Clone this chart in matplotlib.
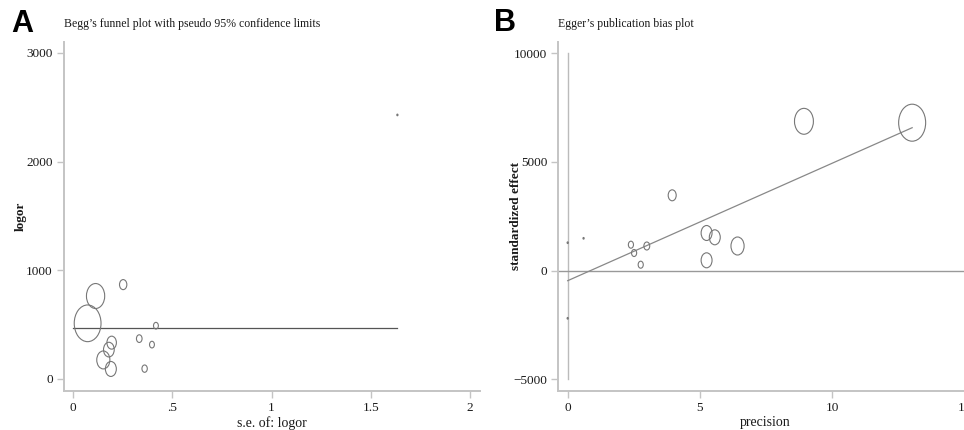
'''
Begg's funnel plot and Egger's publication bias plot, side by side
'''
import matplotlib
matplotlib.use('Agg')
import matplotlib.pyplot as plt
from matplotlib.path import Path
from matplotlib.transforms import Affine2D
import numpy as np

# Panel A: Begg's funnel plot (s.e. of logor vs logor)
begg_se = [0.074, 0.114, 0.253, 0.418, 0.195, 0.181, 0.153, 0.191, 0.334, 0.398, 0.361, 1.634]
begg_logor = [512, 763, 868, 490, 334, 270, 175, 92, 371, 316, 95, 2429]
begg_weight = [100, 46.4, 7.5, 3.3, 12.5, 16, 24, 16.7, 4.4, 3.3, 4, 0.2]
begg_pooled = 472

# Panel B: Egger's plot (precision vs standardized effect)
egger_prec = [13.02, 8.93, 3.95, 5.25, 5.56, 6.42, 5.25, 2.99, 2.39, 2.51, 2.76, 0.60, 0.0, 0.0]
egger_std = [6808, 6872, 3468, 1734, 1536, 1136, 478, 1136, 1196, 814, 276, 1490, 1288, -2190]
egger_weight = [100, 49, 8.8, 16.4, 16.4, 23.7, 16.4, 4.7, 3.6, 3.6, 3.6, 0.2, 0.2, 0.2]
egger_intercept = -460
egger_slope = 540.5

SERIF = ['Liberation Serif', 'DejaVu Serif']
SPINE = '#c4c4c4'

# slightly squashed circle, the source picture is compressed sideways
ELLIPSE = Path(Affine2D().scale(0.73, 1.0).transform(Path.unit_circle().vertices),
               Path.unit_circle().codes)


def marker_sizes(weights, max_px):
    '''convert weights (area) to scatter sizes so the biggest is max_px tall'''
    w = np.asarray(weights, dtype=float)
    h_px = max_px * np.sqrt(w / w.max())
    h_pt = np.maximum(h_px, 1.5) * 72 / 100
    return h_pt ** 2


def style_axes(ax):
    for side in ('top', 'right'):
        ax.spines[side].set_visible(False)
    for side in ('left', 'bottom'):
        ax.spines[side].set_color(SPINE)
        ax.spines[side].set_linewidth(1.4)
    ax.tick_params(colors=SPINE, labelcolor='#1a1a1a', length=5, width=1.0,
                   direction='out', labelsize=9.5, pad=3)
    for lab in ax.get_xticklabels() + ax.get_yticklabels():
        lab.set_family(SERIF)


fig = plt.figure(figsize=(9.64, 4.30), dpi=100)

# ---- A ----
ax_a = fig.add_axes([64 / 964, 39.3 / 430, 416 / 964, 348.7 / 430])
ax_a.set_xlim(-0.045, 2.05)
ax_a.set_ylim(-108, 3100)
ax_a.plot([0, max(begg_se)], [begg_pooled, begg_pooled], color='#555555', lw=0.9, zorder=1)
ax_a.scatter(begg_se, begg_logor, s=marker_sizes(begg_weight, 36.7), marker=ELLIPSE,
             facecolors='none', edgecolors='#777777', linewidths=0.8, zorder=2)
ax_a.set_xticks([0, 0.5, 1, 1.5, 2])
ax_a.set_xticklabels(['0', '.5', '1', '1.5', '2'])
ax_a.set_yticks([0, 1000, 2000, 3000])
style_axes(ax_a)
ax_a.set_xlabel('s.e. of: logor', family=SERIF, fontsize=10, color='#1a1a1a')
ax_a.xaxis.set_label_coords(0.5, -0.072)
ax_a.set_ylabel('logor', family=SERIF, fontsize=9.5, fontweight='bold', color='#1a1a1a')
ax_a.yaxis.set_label_coords(-0.089, 0.5)

# ---- B ----
ax_b = fig.add_axes([558.3 / 964, 39 / 430, 414.7 / 964, 349 / 430])
ax_b.set_xlim(-0.355, 15.32)
ax_b.set_ylim(-5534, 10520)
ax_b.plot([0, 0], [-5000, 10000], color='#bbbbbb', lw=1.0, zorder=1)
ax_b.axhline(0, color='#999999', lw=1.0, zorder=1)
xfit = np.array([0, max(egger_prec)])
ax_b.plot(xfit, egger_intercept + egger_slope * xfit, color='#888888', lw=0.9, zorder=1)
ax_b.scatter(egger_prec, egger_std, s=marker_sizes(egger_weight, 37), marker=ELLIPSE,
             facecolors='none', edgecolors='#777777', linewidths=0.8, zorder=2)
ax_b.set_xticks([0, 5, 10, 15])
ax_b.set_yticks([-5000, 0, 5000, 10000])
ax_b.set_yticklabels(['\u22125000', '0', '5000', '10000'])
style_axes(ax_b)
ax_b.set_xlabel('precision', family=SERIF, fontsize=10, color='#1a1a1a')
ax_b.xaxis.set_label_coords(0.5, -0.072)
ax_b.set_ylabel('standardized effect', family=SERIF, fontsize=9.5, fontweight='bold',
                color='#1a1a1a')
ax_b.yaxis.set_label_coords(-0.088, 0.5)

# titles and panel letters
fig.text(64 / 964, 1 - 24 / 430, 'Begg\u2019s funnel plot with pseudo 95% confidence limits',
         family=SERIF, fontsize=8.5, va='center', ha='left', color='#1a1a1a')
fig.text(558.3 / 964, 1 - 24 / 430, 'Egger\u2019s publication bias plot',
         family=SERIF, fontsize=8.5, va='center', ha='left', color='#1a1a1a')
fig.text(11 / 964, 1 - 24 / 430, 'A', family=['Liberation Sans', 'DejaVu Sans'],
         fontsize=22, fontweight='bold', va='center', ha='left')
fig.text(494 / 964, 1 - 23 / 430, 'B', family=['Liberation Sans', 'DejaVu Sans'],
         fontsize=22, fontweight='bold', va='center', ha='left')

fig.savefig('out.png', dpi=100)
